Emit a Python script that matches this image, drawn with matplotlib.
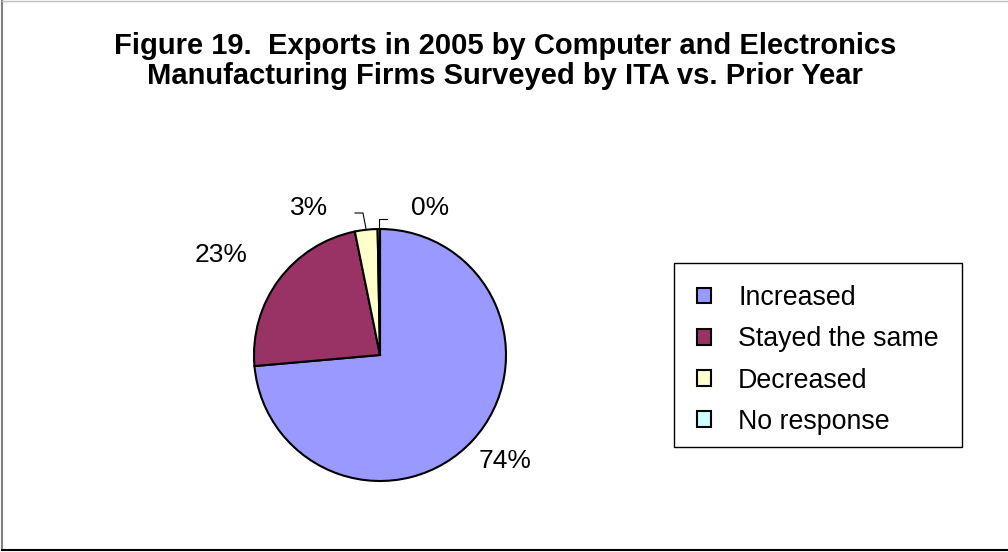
import numpy as np
import matplotlib
matplotlib.use("Agg")
import matplotlib.pyplot as plt
from matplotlib.patches import Rectangle, Patch
from matplotlib.lines import Line2D

plt.rcParams['font.family'] = ['Liberation Sans', 'DejaVu Sans']

# Data
categories = ["Increased", "Stayed the same", "Decreased", "No response"]
shares = [73.6, 23.2, 2.9, 0.3]
pct_labels = ["74%", "23%", "3%", "0%"]
colors = ["#9999FF", "#993366", "#FFFFCC", "#CCFFFF"]

title = ("Figure 19.  Exports in 2005 by Computer and Electronics\n"
         "Manufacturing Firms Surveyed by ITA vs. Prior Year")

W, H = 1008, 552
fig = plt.figure(figsize=(W / 100, H / 100), dpi=100)

# pie axes: centre (380, 355) px, radius 126 px
cx, cy, r = 380, 355, 126
half = 1.5 * r
ax = fig.add_axes([(cx - half) / W, (H - cy - half) / H, 2 * half / W, 2 * half / H])
ax.set_aspect("equal")
ax.axis("off")

wedges, _ = ax.pie(shares, colors=colors, startangle=90, counterclock=False,
                   radius=1.0, center=(0, 0),
                   wedgeprops=dict(edgecolor="black", linewidth=1.5))
ax.set_xlim(-1.5, 1.5)
ax.set_ylim(-1.5, 1.5)

# percentage labels (layout offsets in axis units)
label_xy = [(0.99, -0.84), (-1.26, 0.79), (-0.56, 1.17), (0.40, 1.17)]
for txt, (lx, ly) in zip(pct_labels, label_xy):
    ax.text(lx, ly, txt, fontsize=19, ha="center", va="center")

# leader lines for the small slices
def mid_point(w):
    a = np.deg2rad((w.theta1 + w.theta2) / 2)
    return np.cos(a), np.sin(a)

mx, my = mid_point(wedges[2])
ax.plot([-0.198, -0.135, mx], [1.127, 1.127, my], color="black", lw=0.8)
mx, my = mid_point(wedges[3])
ax.plot([mx, mx, mx + 0.063], [my, 1.08, 1.08], color="black", lw=0.8)

# title
fig.text(0.501, 1 - 61 / H, title, fontsize=21, fontweight="bold",
         ha="center", va="center", linespacing=1.1)

# legend box
bx0, by0, bx1, by1 = 674, 263, 962, 447
fig.patches.append(Rectangle((bx0 / W, 1 - by1 / H), (bx1 - bx0) / W, (by1 - by0) / H,
                             transform=fig.transFigure, facecolor="white",
                             edgecolor="black", linewidth=1.0))
handles = [Patch(facecolor=c, edgecolor="black", linewidth=1.5) for c in colors]
leg = fig.legend(handles, categories, loc="upper left",
                 bbox_to_anchor=((bx0 + 15) / W, 1 - (by0 + 14) / H),
                 frameon=False, fontsize=19.3, handlelength=0.53, handleheight=0.53,
                 handletextpad=1.0, labelspacing=0.57, borderpad=0.3,
                 borderaxespad=0)

# outer chart border
fig.add_artist(Line2D([2 / W, 2 / W], [1 - 550 / H, 1.0], transform=fig.transFigure,
                      color="#808080", lw=1.5))
fig.add_artist(Line2D([2 / W, 1.0], [1 - 0.5 / H, 1 - 0.5 / H], transform=fig.transFigure,
                      color="#c0c0c0", lw=1.0))
fig.add_artist(Line2D([2 / W, 1.0], [1 - 550 / H, 1 - 550 / H], transform=fig.transFigure,
                      color="black", lw=1.5))

fig.savefig("out.png", dpi=100)
